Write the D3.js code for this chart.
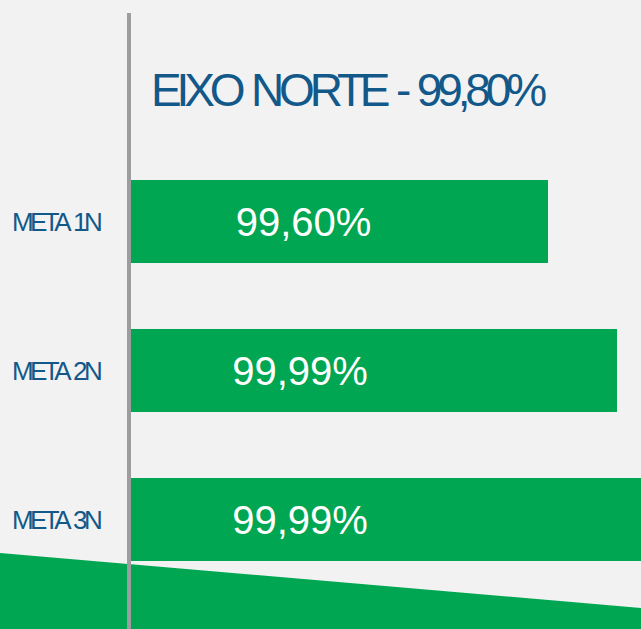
<!DOCTYPE html>
<html>
<head>
<meta charset="utf-8">
<script src="https://cdn.jsdelivr.net/npm/d3@7"></script>
<style>
  html, body { margin: 0; padding: 0; background: #f2f2f2; }
  svg { display: block; }
</style>
</head>
<body>
<div id="chart"></div>
<script>
// ---- data ----
const title = "EIXO NORTE - 99,80%";
const categories = ["META 1N", "META 2N", "META 3N"];
const valueLabels = ["99,60%", "99,99%", "99,99%"];
// bar lengths as drawn in the picture (third bar runs past the frame)
const barValues = [99.60, 99.99, 100.25];

const W = 641, H = 629;
const green = "#00a651", blue = "#12598a", grey = "#9d9d9f", bg = "#f2f2f2";

const svg = d3.select("#chart").append("svg").attr("width", W).attr("height", H);
svg.append("rect").attr("width", W).attr("height", H).attr("fill", bg);

const x0 = 131;
const x = d3.scaleLinear().domain([97.243, 99.99]).range([x0, 617]);
const y = d3.scaleBand().domain(categories).range([180, 561]).paddingInner(0.443).paddingOuter(0);

// helper: tight text with extra gap between words
function wordsInto(textSel, str, gap) {
  str.split(" ").forEach((w, i) => {
    textSel.append("tspan").attr("dx", i === 0 ? 0 : gap).text(i === 0 ? w : " " + w);
  });
}

// decorative green band at the bottom
svg.append("path")
  .attr("d", `M0,553 L${W},608 L${W},${H} L0,${H} Z`)
  .attr("fill", green);

// bars
svg.selectAll("rect.bar").data(categories).join("rect")
  .attr("class", "bar")
  .attr("x", x0)
  .attr("y", d => y(d))
  .attr("width", (d, i) => x(barValues[i]) - x0)
  .attr("height", y.bandwidth())
  .attr("fill", green);

// value labels
svg.selectAll("text.val").data(categories).join("text")
  .attr("class", "val")
  .attr("x", (d, i) => i === 0 ? 303.5 : 300)
  .attr("y", d => y(d) + y.bandwidth() / 2)
  .attr("dy", "0.36em")
  .attr("text-anchor", "middle")
  .attr("font-family", "Liberation Sans, Arial, sans-serif")
  .attr("font-size", 40)
  .attr("fill", "#fff")
  .text((d, i) => valueLabels[i]);

// category labels
svg.selectAll("text.cat").data(categories).join("text")
  .attr("class", "cat")
  .attr("x", 12)
  .attr("y", d => y(d) + y.bandwidth() / 2)
  .attr("dy", "0.36em")
  .attr("font-family", "Liberation Sans, Arial, sans-serif")
  .attr("font-size", 26)
  .attr("letter-spacing", -3.6)
  .attr("fill", blue)
  .each(function(d) { wordsInto(d3.select(this), d, 3); });

// vertical axis line
svg.append("rect").attr("x", 127).attr("y", 13).attr("width", 4).attr("height", H - 13).attr("fill", grey);

// title
const t = svg.append("text")
  .attr("x", 151)
  .attr("y", 106)
  .attr("font-family", "Liberation Sans, Arial, sans-serif")
  .attr("font-size", 46)
  .attr("letter-spacing", -5.15)
  .attr("fill", blue);
wordsInto(t, title, 3);
</script>
</body>
</html>
